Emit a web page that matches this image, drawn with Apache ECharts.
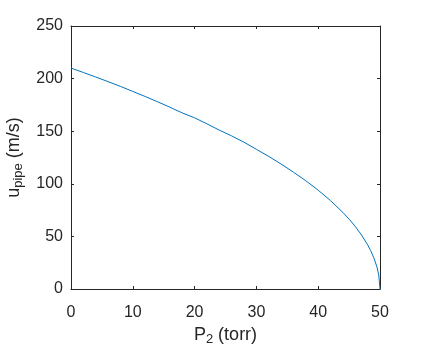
<!DOCTYPE html>
<html>
<head>
<meta charset="utf-8">
<script src="https://cdn.jsdelivr.net/npm/echarts@6/dist/echarts.min.js"></script>
<style>
  html, body { margin: 0; padding: 0; background: #fff; }
  #chart { width: 421px; height: 351px; }
</style>
</head>
<body>
<div id="chart"></div>
<script>
// values
const pressure = [0, 2, 4, 6, 8, 10, 12, 14, 16, 18, 20, 22, 24, 26, 28, 30, 32, 34, 36, 38, 40, 42, 44, 45, 46, 47, 48, 48.5, 49, 49.5, 49.8, 50];
const velocity = [210, 205.8, 201.5, 197.1, 192.6, 187.8, 183, 178, 172.8, 167.4, 162.7, 157, 151, 145.5, 139.5, 132.8, 126, 118.8, 111, 102.9, 93.9, 84, 72.7, 66.4, 59.4, 51.4, 42, 36.4, 29.7, 21, 13.3, 0];
const xTicks = [0, 10, 20, 30, 40, 50];
const yTicks = [0, 50, 100, 150, 200, 250];

const axisColor = '#262626';
const font = 'Liberation Sans, Arial, Helvetica, sans-serif';

const chart = echarts.init(document.getElementById('chart'));

// shared style for the four box sides (ticks point inward like matlab)
const boxAxis = {
    axisLine: { show: true, onZero: false, lineStyle: { color: axisColor, width: 1 } },
    axisTick: { show: true, inside: true, length: 3, lineStyle: { color: axisColor } },
    splitLine: { show: false },
};

const option = {
    animation: false,
    grid: { left: 71, right: 41, top: 26, bottom: 62, containLabel: false, outerBoundsMode: 'none' },
    xAxis: [
        {
            type: 'value',
            min: xTicks[0],
            max: xTicks[xTicks.length - 1],
            interval: 10,
            ...boxAxis,
            axisLabel: { color: axisColor, fontSize: 16, fontFamily: font, margin: 16 },
            name: '{m|P}{s|2}{m| (torr)}',
            nameLocation: 'middle',
            nameGap: 34,
            nameTextStyle: {
                rich: {
                    m: { fontSize: 18, fontFamily: font, color: axisColor },
                    s: { fontSize: 13, fontFamily: font, color: axisColor, padding: [10, 0, 0, 0] },
                },
            },
        },
        {
            type: 'value',
            position: 'top',
            min: xTicks[0],
            max: xTicks[xTicks.length - 1],
            interval: 10,
            ...boxAxis,
            axisLabel: { show: false },
        },
    ],
    yAxis: [
        {
            type: 'value',
            min: yTicks[0],
            max: yTicks[yTicks.length - 1],
            interval: 50,
            ...boxAxis,
            axisLabel: { color: axisColor, fontSize: 16, fontFamily: font, margin: 8 },
            name: '{m|u}{s|pipe}{m| (m/s)}',
            nameLocation: 'middle',
            nameGap: 36,
            nameTextStyle: {
                rich: {
                    m: { fontSize: 18, fontFamily: font, color: axisColor },
                    s: { fontSize: 13, fontFamily: font, color: axisColor, padding: [10, 0, 0, 0] },
                },
            },
        },
        {
            type: 'value',
            position: 'right',
            min: yTicks[0],
            max: yTicks[yTicks.length - 1],
            interval: 50,
            ...boxAxis,
            axisLabel: { show: false },
        },
    ],
    series: [
        {
            type: 'line',
            data: pressure.map((p, i) => [p, velocity[i]]),
            showSymbol: false,
            lineStyle: { color: '#0072BD', width: 1 },
        },
    ],
};
chart.setOption(option);
</script>
</body>
</html>
